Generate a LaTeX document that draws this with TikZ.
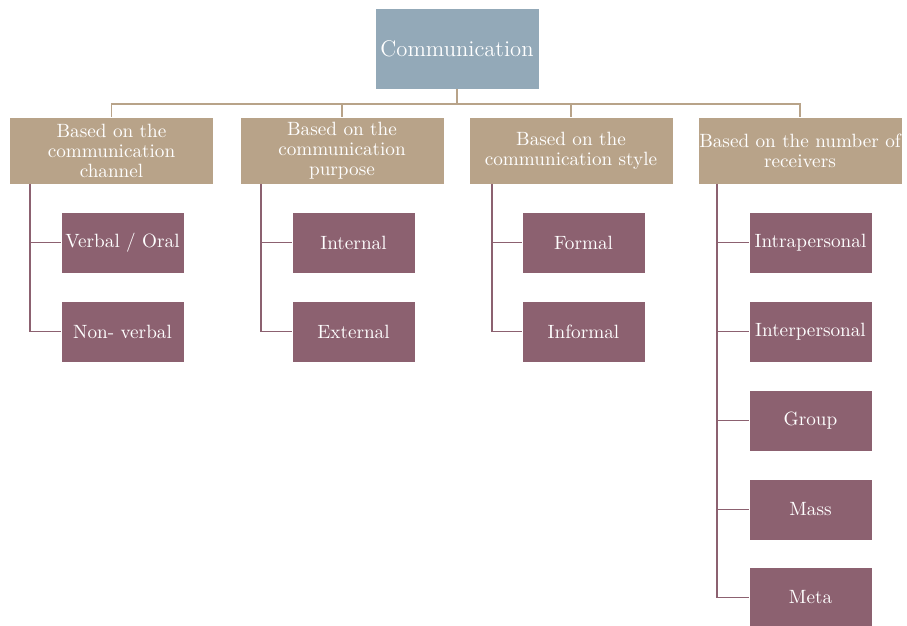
\documentclass[tikz,border=0pt]{standalone}
\usepackage{tikz}
\usetikzlibrary{positioning}
\definecolor{rootfill}{HTML}{93A9B8}
\definecolor{groupfill}{HTML}{B8A389}
\definecolor{itemfill}{HTML}{8C6170}
\tikzset{
	rootbox/.style={fill=rootfill, draw=white, text=white, minimum width=82pt, minimum height=40.5pt, inner sep=0pt, font=\fontsize{11.3}{13}\selectfont},
	groupbox/.style={fill=groupfill, draw=white, text=white, minimum width=102pt, minimum height=33.5pt, inner sep=0pt, align=center, font=\fontsize{9.6}{10}\selectfont},
	itembox/.style={fill=itemfill, draw=white, text=white, minimum width=61.5pt, minimum height=30.5pt, inner sep=0pt, font=\fontsize{9.6}{11}\selectfont},
	tanline/.style={draw=groupfill, line width=0.8pt},
	mauveline/.style={draw=itemfill, line width=0.8pt}
}

\begin{document}
\begin{tikzpicture}[x=0.5pt,y=-0.5pt]
	\useasboundingbox (0,0) rectangle (907,626);
	\node[rootbox] (comm) at (457,48.5){Communication};
	\node[groupbox] (chan) at (111.5,150.5){Based on the\\communication\\channel};
	\node[groupbox] (purp) at (342,150.5){Based on the\\communication\\purpose};
	\node[groupbox] (styl) at (571,150.5){Based on the\\communication style};
	\node[groupbox] (recv) at (800,150.5){Based on the number of\\receivers};
	% children of channel
	\node[itembox] (oral) at (122.5,242.5){Verbal / Oral};
	\node[itembox] (nonv) at (122.5,331.5){Non- verbal};
	% children of purpose
	\node[itembox] (intn) at (353.5,242.5){Internal};
	\node[itembox] (extn) at (353.5,331.5){External};
	% children of style
	\node[itembox] (form) at (583.5,242.5){Formal};
	\node[itembox] (info) at (583.5,331.5){Informal};
	% children of receivers
	\node[itembox] (intra) at (810.5,242.5){Intrapersonal};
	\node[itembox] (inter) at (810.5,331.5){Interpersonal};
	\node[itembox] (grp) at (810.5,420.5){Group};
	\node[itembox] (mass) at (810.5,509.5){Mass};
	\node[itembox] (meta) at (810.5,597.5){Meta};
	% tree lines
	\coordinate (hub) at (457,104);
	\draw[tanline] (comm.south) -- (hub);
	\draw[tanline] (chan.north) |- (hub) -| (recv.north);
	\draw[tanline] (purp.north) -- (purp.north |- hub);
	\draw[tanline] (styl.north) -- (styl.north |- hub);
	% branch points under the groups
	\coordinate (chanbr) at (30,184);
	\coordinate (purpbr) at (261,184);
	\coordinate (stylbr) at (492,184);
	\coordinate (recvbr) at (717,184);
	\draw[mauveline] (chanbr) |- (nonv.west);
	\draw[mauveline] (chanbr |- oral.west) -- (oral.west);
	\draw[mauveline] (purpbr) |- (extn.west);
	\draw[mauveline] (purpbr |- intn.west) -- (intn.west);
	\draw[mauveline] (stylbr) |- (info.west);
	\draw[mauveline] (stylbr |- form.west) -- (form.west);
	\draw[mauveline] (recvbr) |- (meta.west);
	\draw[mauveline] (recvbr |- intra.west) -- (intra.west);
	\draw[mauveline] (recvbr |- inter.west) -- (inter.west);
	\draw[mauveline] (recvbr |- grp.west) -- (grp.west);
	\draw[mauveline] (recvbr |- mass.west) -- (mass.west);
\end{tikzpicture}
\end{document}
